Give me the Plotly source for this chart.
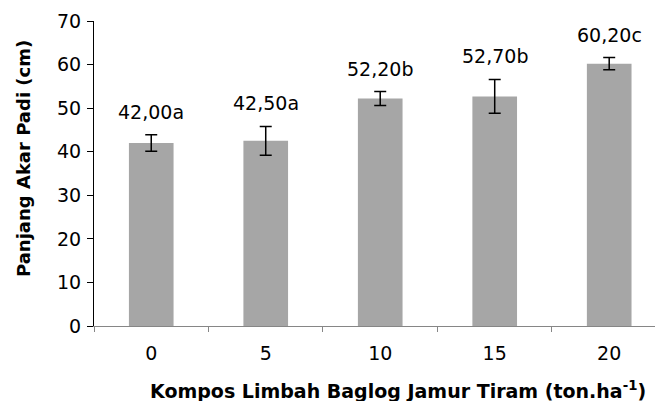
import plotly.graph_objects as go

categories = ["0", "5", "10", "15", "20"]
values = [42.0, 42.5, 52.2, 52.7, 60.2]
errors = [1.9, 3.3, 1.6, 3.9, 1.4]
labels = ["42,00a", "42,50a", "52,20b", "52,70b", "60,20c"]
y_ticks = [0, 10, 20, 30, 40, 50, 60, 70]

FONT = "DejaVu Sans, Arial, sans-serif"

fig = go.Figure()
fig.add_trace(go.Bar(
    x=categories, y=values, width=0.39,
    marker=dict(color="#a6a6a6", line=dict(width=0)),
    error_y=dict(type="data", array=errors, visible=True,
                 color="black", thickness=1.5, width=6),
    hoverinfo="skip",
))

for i, (v, e, t) in enumerate(zip(values, errors, labels)):
    fig.add_annotation(x=i, y=v + e, text=t, showarrow=False,
                       xref="x", yref="y", yanchor="bottom", yshift=10,
                       font=dict(family=FONT, size=19, color="black"))

fig.add_annotation(text="Kompos Limbah Baglog Jamur Tiram (ton.ha<sup>-1</sup>)",
                   xref="paper", yref="paper", x=0.542, y=-0.21,
                   xanchor="center", yanchor="middle", showarrow=False,
                   font=dict(family=FONT, size=19, color="black", weight="bold"))
fig.add_annotation(text="Panjang Akar Padi (cm)",
                   xref="paper", yref="paper", x=-0.126, y=0.5486,
                   xanchor="center", yanchor="middle", showarrow=False,
                   textangle=-90,
                   font=dict(family=FONT, size=18, color="black", weight="bold"))

fig.update_layout(
    width=655, height=401,
    margin=dict(l=94, r=0, t=21, b=75, pad=0, autoexpand=False),
    paper_bgcolor="white", plot_bgcolor="white",
    showlegend=False,
    font=dict(family=FONT, size=19, color="black"),
)
fig.update_xaxes(
    type="category", range=[-0.5, 4.4], automargin=False,
    showline=True, linecolor="#868686", linewidth=1,
    ticks="outside", tickson="boundaries", ticklen=5, tickcolor="#868686",
    ticklabelstandoff=10,
    showgrid=False, zeroline=False,
    tickfont=dict(family=FONT, size=19, color="black"),
)
fig.update_yaxes(
    range=[0, 70], tickvals=y_ticks, automargin=False,
    showline=True, linecolor="black", linewidth=1,
    ticks="outside", ticklen=6, tickcolor="black",
    ticklabelstandoff=2,
    showgrid=False, zeroline=False,
    tickfont=dict(family=FONT, size=19, color="black"),
)

fig.write_html("out.html",
               config={"displayModeBar": False},
               post_script="document.body.style.margin='0';document.body.style.overflow='hidden';")
